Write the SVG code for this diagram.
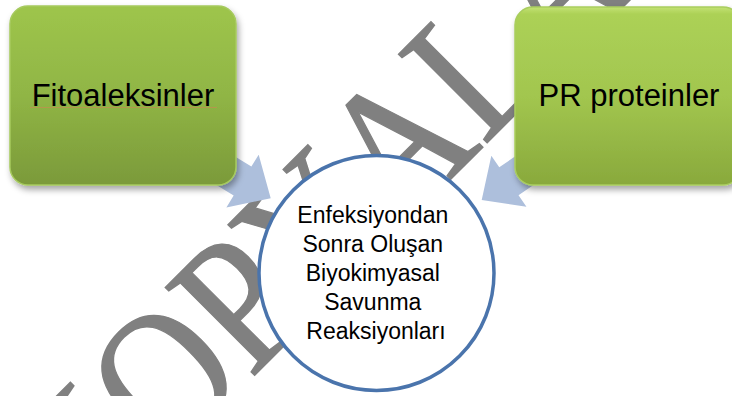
<svg xmlns="http://www.w3.org/2000/svg" width="732" height="396" viewBox="0 0 732 396">
  <style>
    .wm { font-family: "Liberation Serif", serif; font-size: 165px; font-kerning: none; fill: #808080; stroke: #808080; stroke-width: 1.2; }
    .lbl { font-family: "Liberation Sans", Arial, sans-serif; fill: #000; text-anchor: middle; }
    .arrow { fill: #adbfdc; }
  </style>
  <defs>
    <linearGradient id="gL" x1="0" y1="0" x2="0" y2="1">
      <stop offset="0" stop-color="#9ec54c"/>
      <stop offset="0.5" stop-color="#90b545"/>
      <stop offset="1" stop-color="#7b9a3a"/>
    </linearGradient>
    <linearGradient id="gR" x1="0" y1="0" x2="0" y2="1">
      <stop offset="0" stop-color="#c3e274"/>
      <stop offset="0.04" stop-color="#acd156"/>
      <stop offset="0.5" stop-color="#a2c64f"/>
      <stop offset="1" stop-color="#89a93c"/>
    </linearGradient>
    <filter id="sh" x="-10%" y="-10%" width="125%" height="125%">
      <feDropShadow dx="2" dy="4" stdDeviation="3" flood-color="#000" flood-opacity="0.35"/>
    </filter>
    <path id="arr" d="M0,0 L-33,31 L-33,17 L-110,17 L-110,-17 L-33,-17 L-33,-31 Z"/>
  </defs>

  <g id="watermark">
    <text class="wm" transform="translate(81.9,548.1) rotate(-45) scale(1,1.16)">KOPYALANAMAZ</text>
  </g>

  <g id="connectors">
    <use href="#arr" class="arrow" transform="translate(270.7,198.3) rotate(31.4)"/>
    <use href="#arr" class="arrow" transform="translate(481.7,200) rotate(145.5)"/>
  </g>

  <g id="fitoaleksinler">
    <rect x="10" y="6" width="226" height="179" rx="18" fill="url(#gL)" stroke="#a6ca5e" stroke-width="1.5" filter="url(#sh)"/>
    <text class="lbl" x="123" y="106" font-size="31">Fitoaleksinler</text>
    <line x1="30" y1="107.5" x2="217" y2="107.5" stroke="#c98a50" stroke-width="0.8" opacity="0.8"/>
  </g>

  <g id="pr-proteinler">
    <rect x="515" y="7" width="226" height="178" rx="18" fill="url(#gR)" stroke="#a9cd5e" stroke-width="1.5" filter="url(#sh)"/>
    <text class="lbl" x="629" y="106" font-size="31">PR proteinler</text>
  </g>

  <g id="savunma">
    <circle cx="376.5" cy="273" r="117.5" fill="#fff" stroke="#4a74ac" stroke-width="3.5"/>
    <text class="lbl" font-size="23">
      <tspan x="376" y="223">Enfeksiyondan</tspan>
      <tspan x="376" y="252">Sonra Oluşan</tspan>
      <tspan x="376" y="281">Biyokimyasal</tspan>
      <tspan x="376" y="310">Savunma</tspan>
      <tspan x="376" y="339">Reaksiyonları</tspan>
    </text>
  </g>
</svg>
